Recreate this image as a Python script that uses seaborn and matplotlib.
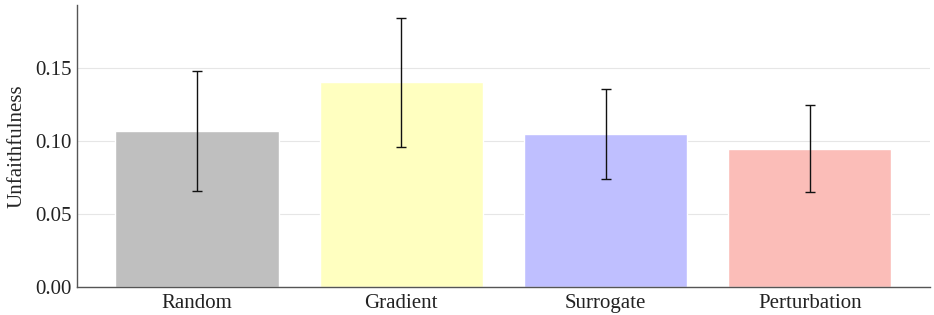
import matplotlib

matplotlib.use("Agg")
import matplotlib.pyplot as plt
import seaborn as sns
import pandas as pd

# values
methods = ["Random", "Gradient", "Surrogate", "Perturbation"]
means = [0.1065, 0.1398, 0.1045, 0.0944]
errs = [0.0412, 0.0442, 0.0305, 0.0298]
colors = ["#bfbfbf", "#ffffc0", "#bfbfff", "#fbbdb8"]

df = pd.DataFrame({"method": methods, "unfaithfulness": means})

sns.set_style("white")
plt.rcParams["font.family"] = ["Liberation Serif", "DejaVu Serif"]

fig, ax = plt.subplots(figsize=(9.34, 3.15), dpi=100)
sns.barplot(
    data=df,
    x="method",
    y="unfaithfulness",
    hue="method",
    palette=colors,
    saturation=1,
    width=0.8,
    errorbar=None,
    legend=False,
    ax=ax,
    zorder=2,
)
ax.errorbar(
    range(len(methods)),
    means,
    yerr=errs,
    fmt="none",
    ecolor="#111111",
    elinewidth=1,
    capsize=3.5,
    capthick=1,
    zorder=3,
)

ax.set_xlim(-0.59, 3.59)
ax.set_ylim(0, 0.193)
ax.set_yticks([0.0, 0.05, 0.10, 0.15])
ax.set_yticklabels(["0.00", "0.05", "0.10", "0.15"])
ax.yaxis.grid(True, color="#e6e6e6", linewidth=0.8, zorder=0)
ax.set_axisbelow(True)
ax.set_xlabel("")
ax.set_ylabel("Unfaithfulness", fontsize=15, labelpad=6)
ax.tick_params(axis="both", labelsize=15, colors="#222222")
ax.tick_params(axis="x", length=3, color="#555555", pad=2)
ax.tick_params(axis="y", length=0)
for s in ["top", "right"]:
    ax.spines[s].set_visible(False)
for s in ["left", "bottom"]:
    ax.spines[s].set_color("#555555")
    ax.spines[s].set_linewidth(1)

plt.subplots_adjust(left=0.082, right=0.996, top=0.985, bottom=0.09)
fig.savefig("out.png", dpi=100)
